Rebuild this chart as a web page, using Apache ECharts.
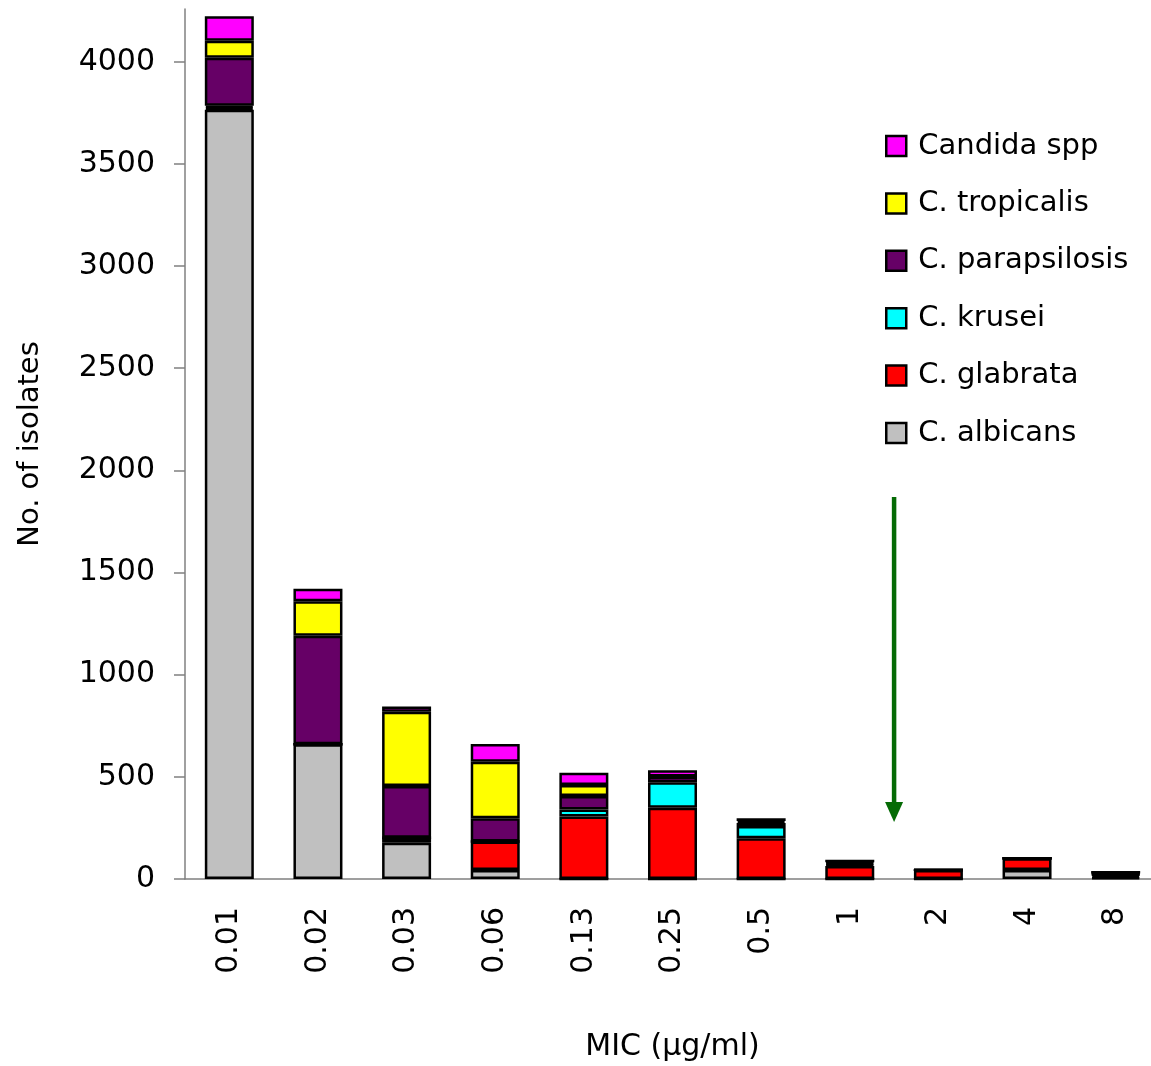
<!DOCTYPE html>
<html>
<head>
<meta charset="utf-8">
<script src="https://cdn.jsdelivr.net/npm/echarts@6/dist/echarts.min.js"></script>
<style>html,body{margin:0;padding:0;background:#fff}#c{width:1151px;height:1066px}</style>
</head>
<body>
<div id="c"></div>
<script>
var categories = ['0.01','0.02','0.03','0.06','0.13','0.25','0.5','1','2','4','8'];
var albicans     = [3765, 660, 177,  44,   0,   0,   0,  0,  0, 44,  8];
var glabrata     = [  10,   0,  25, 139, 306, 349, 199, 64, 44, 57, 10];
var krusei       = [  10,   0,   0,   0,  34, 125,  60,  8,  0,  0,  5];
var parapsilosis = [ 235, 530, 253, 114,  66,  28,  15,  8,  0,  0,  5];
var tropicalis   = [  83, 169, 363, 277,  54,   0,  10,  8,  0,  0,  5];
var candidaSpp   = [ 119,  61,  26,  87,  60,  30,  13,  0,  0,  0,  0];
var yTicks = [0, 500, 1000, 1500, 2000, 2500, 3000, 3500, 4000];
var arrowCats = ['1', '2'];
var arrowValues = [1870, 279];

var FONT = 'DejaVu Sans';
var seriesDefs = [
  ['C. albicans', albicans, '#C0C0C0'],
  ['C. glabrata', glabrata, '#FF0000'],
  ['C. krusei', krusei, '#00FFFF'],
  ['C. parapsilosis', parapsilosis, '#660066'],
  ['C. tropicalis', tropicalis, '#FFFF00'],
  ['Candida spp', candidaSpp, '#FF00FF']
];

var chart = echarts.init(document.getElementById('c'));
var option = {
  animation: false,
  backgroundColor: '#fff',
  grid: { left: 185, right: -9, top: 9, bottom: 187, containLabel: false, outerBoundsMode: 'none' },
  legend: {
    orient: 'vertical',
    left: 880, top: 126,
    icon: 'rect',
    itemWidth: 20, itemHeight: 20,
    itemGap: 27.4,
    data: ['Candida spp','C. tropicalis','C. parapsilosis','C. krusei','C. glabrata','C. albicans'],
    textStyle: { fontFamily: FONT, fontSize: 29, color: '#000', lineHeight: 30, padding: [0,0,0,7] },
    itemStyle: { borderColor: '#000', borderWidth: 2.5 }
  },
  xAxis: {
    type: 'category',
    data: categories,
    boundaryGap: true,
    name: 'MIC (µg/ml)',
    nameLocation: 'middle',
    nameGap: 153,
    nameTextStyle: { fontFamily: FONT, fontSize: 30, color: '#000' },
    axisLine: { lineStyle: { color: '#808080', width: 1.5 } },
    axisTick: { length: 11, lineStyle: { color: '#555', width: 1.5 } },
    axisLabel: { rotate: 90, margin: 28, fontFamily: FONT, fontSize: 30, color: '#000', interval: 0 }
  },
  yAxis: {
    type: 'value',
    min: 0, max: 4258,
    name: 'No. of isolates',
    nameLocation: 'middle',
    nameGap: 140,
    nameTextStyle: { fontFamily: FONT, fontSize: 29, color: '#000' },
    splitLine: { show: false },
    axisLine: { show: true, lineStyle: { color: '#808080', width: 1.5 } },
    axisTick: { show: true, length: 11, customValues: yTicks, lineStyle: { color: '#808080', width: 1.5 } },
    axisLabel: { margin: 30, fontFamily: FONT, fontSize: 30, color: '#000', customValues: yTicks,
      formatter: function (v) { return String(v); } }
  },
  series: seriesDefs.map(function (d) {
    return {
      name: d[0], type: 'bar', stack: 'total', data: d[1], barWidth: 49,
      itemStyle: { color: d[2], borderColor: '#000', borderWidth: 2.5 }
    };
  })
};
chart.setOption(option);

var pa = chart.convertToPixel({ xAxisIndex: 0, yAxisIndex: 0 }, [arrowCats[0], arrowValues[0]]);
var pb = chart.convertToPixel({ xAxisIndex: 0, yAxisIndex: 0 }, [arrowCats[1], arrowValues[1]]);
var ax = (pa[0] + pb[0]) / 2;
var yTop = pa[1], yTip = pb[1];
var green = '#056b05';
chart.setOption({
  graphic: [
    { type: 'line', shape: { x1: ax, y1: yTop, x2: ax, y2: yTip - 16 }, style: { stroke: green, lineWidth: 4.5 }, z: 100 },
    { type: 'polygon', shape: { points: [[ax - 9, yTip - 20], [ax + 9, yTip - 20], [ax, yTip]] }, style: { fill: green }, z: 100 }
  ]
});
</script>
</body>
</html>
